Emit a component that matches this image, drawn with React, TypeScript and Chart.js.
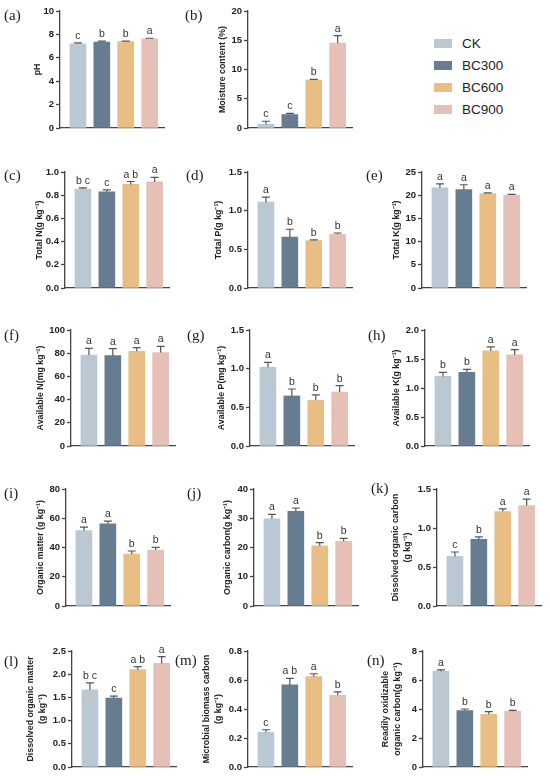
import { useEffect, useRef } from 'react';
import { Chart, registerables } from 'chart.js';

Chart.register(...registerables);

const categories = ['CK', 'BC300', 'BC600', 'BC900'];
const barColors = ['#b9c8d2', '#667d91', '#e8be84', '#e6c0b7'];

// (a) pH
const phMean = [7.2, 7.35, 7.38, 7.62];
const phErr = [0.08, 0.08, 0.05, 0.05];
const phSig = ['c', 'b', 'b', 'a'];
// (b) moisture content
const moistMean = [0.65, 2.3, 8.2, 14.5];
const moistErr = [0.5, 0.2, 0.1, 1.3];
const moistSig = ['c', 'c', 'b', 'a'];
// (c) total N
const tnMean = [0.853, 0.829, 0.893, 0.916];
const tnErr = [0.01, 0.017, 0.025, 0.037];
const tnSig = ['b c', 'c', 'a b', 'a'];
// (d) total P
const tpMean = [1.11, 0.66, 0.613, 0.694];
const tpErr = [0.065, 0.1, 0.01, 0.017];
const tpSig = ['a', 'b', 'b', 'b'];
// (e) total K
const tkMean = [21.6, 21.2, 20.35, 20.05];
const tkErr = [0.85, 1.05, 0.15, 0.14];
const tkSig = ['a', 'a', 'a', 'a'];
// (f) available N
const anMean = [78.4, 77.9, 81.6, 80.5];
const anErr = [5.8, 6.0, 3.2, 5.4];
const anSig = ['a', 'a', 'a', 'a'];
// (g) available P
const apMean = [1.017, 0.647, 0.59, 0.698];
const apErr = [0.065, 0.09, 0.07, 0.082];
const apSig = ['a', 'b', 'b', 'b'];
// (h) available K
const akMean = [1.2, 1.27, 1.64, 1.57];
const akErr = [0.07, 0.05, 0.07, 0.09];
const akSig = ['b', 'b', 'a', 'a'];
// (i) organic matter
const omMean = [51.6, 56.2, 35.5, 38.3];
const omErr = [2.3, 1.9, 2.1, 1.8];
const omSig = ['a', 'a', 'b', 'b'];
// (j) organic carbon
const ocMean = [29.8, 32.4, 20.6, 22.1];
const ocErr = [1.5, 1.1, 1.1, 1.0];
const ocSig = ['a', 'a', 'b', 'b'];
// (k) dissolved organic carbon
const docMean = [0.636, 0.855, 1.212, 1.289];
const docErr = [0.056, 0.03, 0.034, 0.08];
const docSig = ['c', 'b', 'a', 'a'];
// (l) dissolved organic matter
const domMean = [1.664, 1.484, 2.097, 2.233];
const domErr = [0.15, 0.043, 0.065, 0.145];
const domSig = ['b c', 'c', 'a b', 'a'];
// (m) microbial biomass carbon
const mbcMean = [0.239, 0.566, 0.623, 0.495];
const mbcErr = [0.018, 0.045, 0.02, 0.023];
const mbcSig = ['c', 'a b', 'a', 'b'];
// (n) readily oxidizable organic carbon
const roocMean = [6.61, 3.89, 3.64, 3.84];
const roocErr = [0.09, 0.11, 0.18, 0.07];
const roocSig = ['a', 'b', 'b', 'b'];

const AXIS_W = 50;
const PAD_T = 12;
const PAD_B = 8;
const PAD_R = 4;
const PLOT_W = 104;
const X_MIN = -0.75;
const X_MAX = 3.6;
const TITLE_SIZE = 8.8;
const TITLE_LH = 1.35;

type PanelProps = {
  tag: string;
  title: string | string[];
  mean: number[];
  err: number[];
  sig: string[];
  max: number;
  step: number;
  dec: number;
  axisX: number;
  top: number;
  zero: number;
  gap: number;
  tagX: number;
  tagY: number;
};

function Panel(p: PanelProps) {
  const ref = useRef<HTMLCanvasElement>(null);

  useEffect(() => {
    if (!ref.current) return;
    // error bars (upper half only) and significance letters
    const marks = {
      id: 'marks',
      afterDatasetsDraw(chart: any) {
        const { ctx, scales } = chart;
        const y = scales.y;
        const meta = chart.getDatasetMeta(0);
        meta.data.forEach((bar: any, i: number) => {
          const yBar = y.getPixelForValue(p.mean[i]);
          const yCap = y.getPixelForValue(p.mean[i] + p.err[i]);
          ctx.save();
          ctx.strokeStyle = '#555';
          ctx.lineWidth = 1.2;
          ctx.beginPath();
          ctx.moveTo(bar.x, yBar);
          ctx.lineTo(bar.x, yCap);
          ctx.moveTo(bar.x - 4, yCap);
          ctx.lineTo(bar.x + 4, yCap);
          ctx.stroke();
          ctx.fillStyle = '#333';
          ctx.font = '10.5px "Liberation Sans", Arial, sans-serif';
          ctx.textAlign = 'center';
          ctx.textBaseline = 'alphabetic';
          ctx.fillText(p.sig[i], bar.x, yCap - 4);
          ctx.restore();
        });
      },
    };

    const chart = new Chart(ref.current, {
      type: 'bar',
      data: {
        labels: categories,
        datasets: [
          {
            data: p.mean.map((v, i) => ({ x: i, y: v })),
            backgroundColor: barColors,
            borderWidth: 0,
            barThickness: 16,
          },
        ],
      },
      options: {
        animation: false,
        responsive: true,
        maintainAspectRatio: false,
        layout: { padding: { top: PAD_T, bottom: PAD_B, left: 0, right: PAD_R } },
        plugins: { legend: { display: false }, tooltip: { enabled: false } },
        scales: {
          x: {
            type: 'linear',
            min: X_MIN,
            max: X_MAX,
            offset: false,
            bounds: 'data',
            ticks: { display: false, stepSize: 1 },
            grid: { display: false, offset: false },
            border: { display: true, color: '#444', width: 1.3 },
            afterDataLimits: (s: any) => {
              s.min = X_MIN;
              s.max = X_MAX;
            },
            afterFit: (s: any) => {
              s.height = 0;
            },
          },
          y: {
            min: 0,
            max: p.max,
            ticks: {
              stepSize: p.step,
              color: '#222',
              padding: 2,
              font: { family: '"Liberation Sans", Arial', size: 9.5, weight: 'bold' },
              callback: (v: any) => Number(v).toFixed(p.dec),
            },
            grid: {
              display: true,
              drawOnChartArea: false,
              drawTicks: true,
              tickLength: 4,
              tickColor: '#444',
              tickWidth: 1.3,
            },
            border: { display: true, color: '#444', width: 1.3 },
            title: {
              display: true,
              text: p.title,
              color: '#222',
              font: { family: '"Liberation Sans", Arial', size: TITLE_SIZE, weight: 'bold', lineHeight: TITLE_LH },
              padding: { top: AXIS_W - p.gap - (TITLE_SIZE * TITLE_LH) / 2, bottom: 0 },
            },
            afterFit: (s: any) => {
              s.width = AXIS_W;
            },
          },
        },
      } as any,
      plugins: [marks],
    });
    return () => chart.destroy();
  }, []);

  return (
    <>
      <div
        style={{
          position: 'absolute',
          left: p.axisX - AXIS_W,
          top: p.top - PAD_T,
          width: AXIS_W + PLOT_W + PAD_R,
          height: p.zero - p.top + PAD_T + PAD_B,
        }}
      >
        <canvas ref={ref} />
      </div>
      <div
        style={{
          position: 'absolute',
          left: p.tagX,
          top: p.tagY - 9,
          font: '15px "Liberation Serif", serif',
          lineHeight: '18px',
          color: '#222',
        }}
      >
        ({p.tag})
      </div>
    </>
  );
}

export default function App() {
  return (
    <div
      style={{
        position: 'absolute',
        left: 0,
        top: 0,
        width: 550,
        height: 776,
        background: '#fff',
        overflow: 'hidden',
      }}
    >
      <Panel tag="a" title="pH" mean={phMean} err={phErr} sig={phSig} max={10} step={2} dec={0}
        axisX={60} top={11} zero={128} gap={22} tagX={4} tagY={15} />
      <Panel tag="b" title="Moisture content (%)" mean={moistMean} err={moistErr} sig={moistSig} max={20} step={5} dec={0}
        axisX={248} top={11} zero={128} gap={25} tagX={185} tagY={15} />

      <Panel tag="c" title="Total N(g kg⁻¹)" mean={tnMean} err={tnErr} sig={tnSig} max={1} step={0.2} dec={1}
        axisX={65} top={172} zero={288} gap={25} tagX={4} tagY={175} />
      <Panel tag="d" title="Total P(g kg⁻¹)" mean={tpMean} err={tpErr} sig={tpSig} max={1.5} step={0.5} dec={1}
        axisX={248} top={172} zero={288} gap={29} tagX={186} tagY={175} />
      <Panel tag="e" title="Total K(g kg⁻¹)" mean={tkMean} err={tkErr} sig={tkSig} max={25} step={5} dec={0}
        axisX={422} top={172} zero={288} gap={25} tagX={366} tagY={175} />

      <Panel tag="f" title="Available N(mg kg⁻¹)" mean={anMean} err={anErr} sig={anSig} max={100} step={20} dec={0}
        axisX={71} top={330} zero={446} gap={30} tagX={4} tagY={335} />
      <Panel tag="g" title="Available P(mg kg⁻¹)" mean={apMean} err={apErr} sig={apSig} max={1.5} step={0.5} dec={1}
        axisX={250} top={330} zero={446} gap={28} tagX={187} tagY={335} />
      <Panel tag="h" title="Available K(g kg⁻¹)" mean={akMean} err={akErr} sig={akSig} max={2} step={0.5} dec={1}
        axisX={425} top={330} zero={446} gap={28} tagX={368} tagY={335} />

      <Panel tag="i" title="Organic matter (g kg⁻¹)" mean={omMean} err={omErr} sig={omSig} max={80} step={20} dec={0}
        axisX={66} top={489} zero={606} gap={25} tagX={4} tagY={493} />
      <Panel tag="j" title="Organic carbon(g kg⁻¹)" mean={ocMean} err={ocErr} sig={ocSig} max={40} step={10} dec={0}
        axisX={254} top={489} zero={606} gap={26} tagX={187} tagY={493} />
      <Panel tag="k" title={['Dissolved organic carbon', '(g kg⁻¹)']} mean={docMean} err={docErr} sig={docSig} max={1.5} step={0.5} dec={1}
        axisX={437} top={489} zero={606} gap={41} tagX={371} tagY={488} />

      <Panel tag="l" title={['Dissolved organic matter', '(g kg⁻¹)']} mean={domMean} err={domErr} sig={domSig} max={2.5} step={0.5} dec={1}
        axisX={72} top={651} zero={767} gap={41} tagX={4} tagY={661} />
      <Panel tag="m" title={['Microbial biomass carbon', '(g kg⁻¹)']} mean={mbcMean} err={mbcErr} sig={mbcSig} max={0.8} step={0.2} dec={1}
        axisX={248} top={651} zero={767} gap={41} tagX={175} tagY={660} />
      <Panel tag="n" title={['Readily oxidizable', 'organic carbon(g kg⁻¹)']} mean={roocMean} err={roocErr} sig={roocSig} max={8} step={2} dec={0}
        axisX={423} top={651} zero={767} gap={37} tagX={367} tagY={660} />

      {categories.map((c, i) => (
        <div key={c} style={{ position: 'absolute', left: 434, top: 43 + i * 22 - 9, height: 18, display: 'flex', alignItems: 'center' }}>
          <div style={{ width: 18, height: 9, background: barColors[i] }} />
          <div style={{ marginLeft: 10, font: '13.5px "Liberation Sans", Arial, sans-serif', color: '#222' }}>{c}</div>
        </div>
      ))}
    </div>
  );
}
